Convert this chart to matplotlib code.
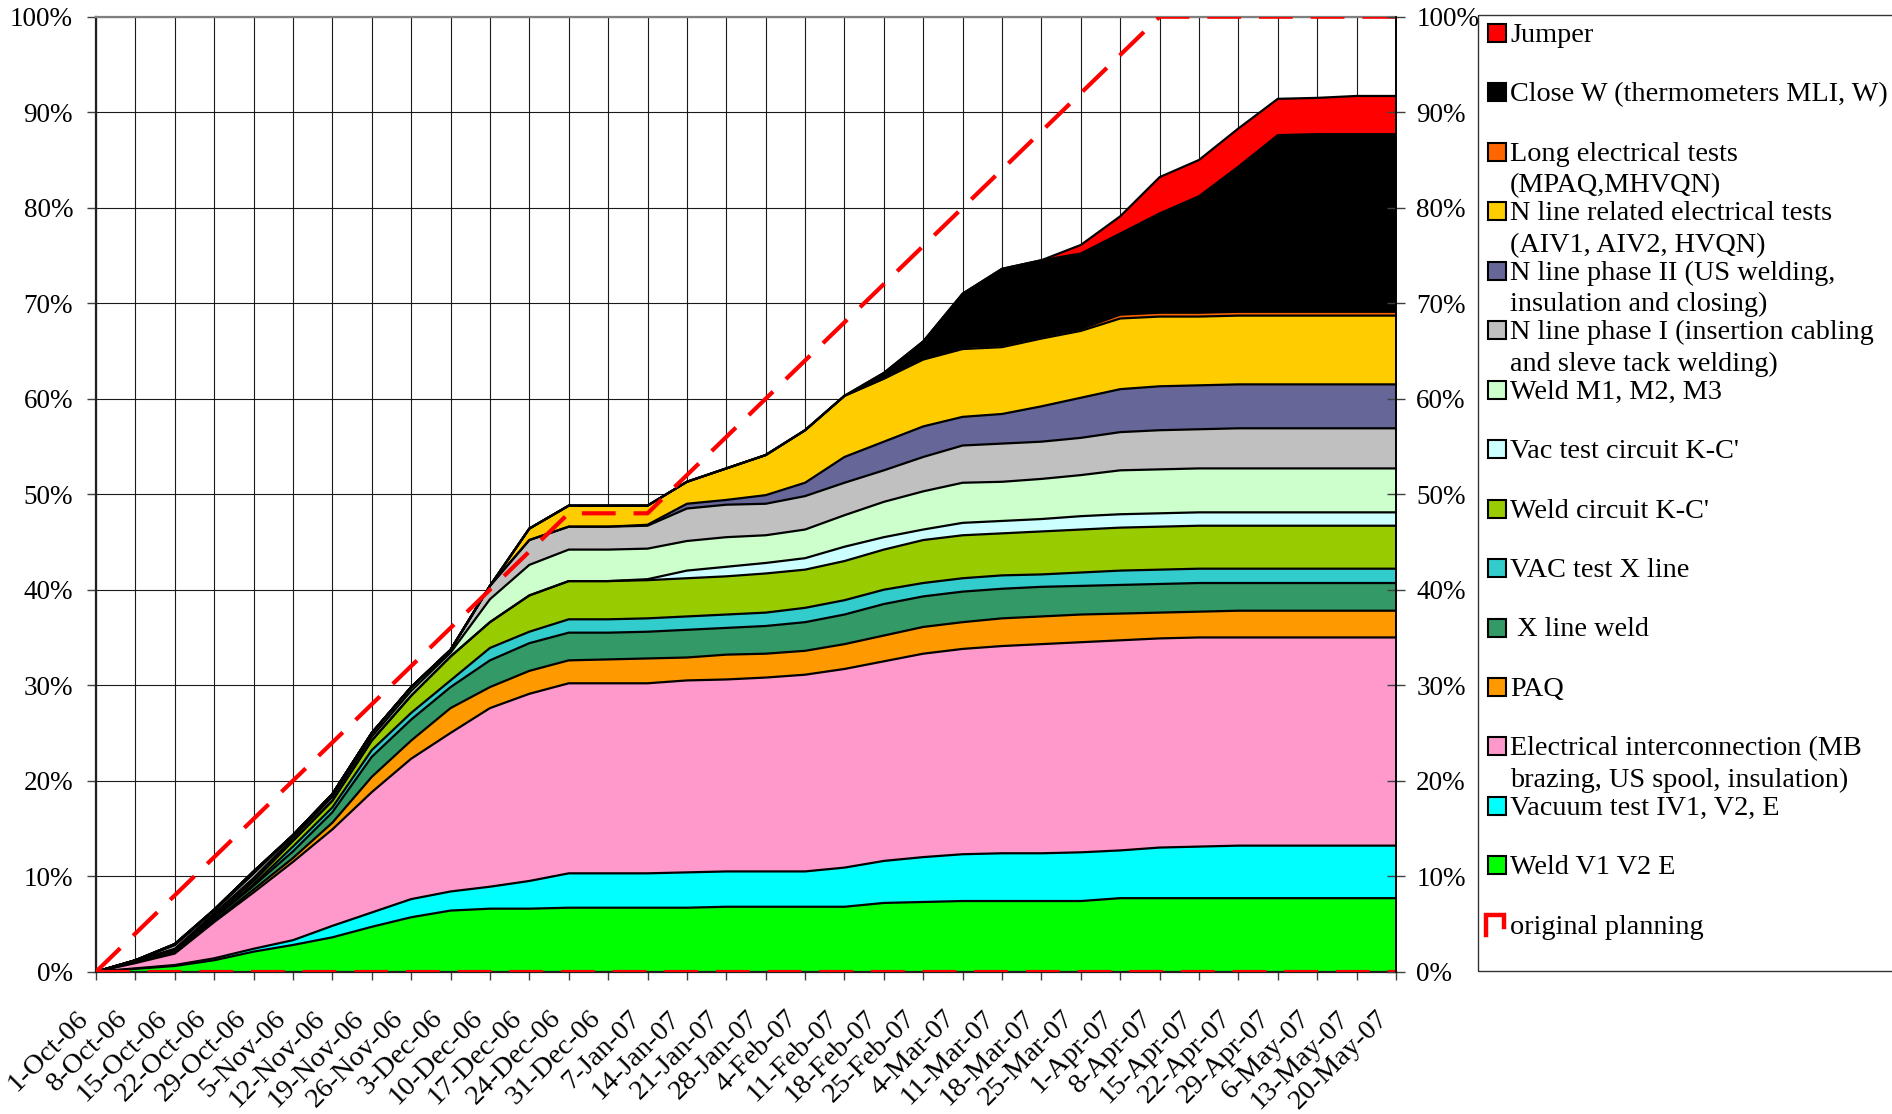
import matplotlib
matplotlib.use('Agg')
import matplotlib.pyplot as plt
import numpy as np
from matplotlib.patches import Rectangle
from matplotlib.lines import Line2D
from matplotlib.transforms import offset_copy

plt.rcParams['font.family'] = ['Liberation Serif', 'DejaVu Serif']

# ---------------- data (cumulative stack levels, %) ----------------
dates = ["1-Oct-06", "8-Oct-06", "15-Oct-06", "22-Oct-06", "29-Oct-06", "5-Nov-06",
         "12-Nov-06", "19-Nov-06", "26-Nov-06", "3-Dec-06", "10-Dec-06", "17-Dec-06",
         "24-Dec-06", "31-Dec-06", "7-Jan-07", "14-Jan-07", "21-Jan-07", "28-Jan-07",
         "4-Feb-07", "11-Feb-07", "18-Feb-07", "25-Feb-07", "4-Mar-07", "11-Mar-07",
         "18-Mar-07", "25-Mar-07", "1-Apr-07", "8-Apr-07", "15-Apr-07", "22-Apr-07",
         "29-Apr-07", "6-May-07", "13-May-07", "20-May-07"]

planning = [0, 4, 8, 12, 16, 20, 24, 28, 32, 36, 40, 44, 48, 48, 48, 52, 56, 60, 64, 68,
            72, 76, 80, 84, 88, 92, 96, 100, 100, 100, 100, 100, 100, 100]

weld_v1v2e_top = [0, 0.3, 0.6, 1.2, 2.1, 2.8, 3.6, 4.7, 5.7, 6.4,
                  6.6, 6.6, 6.7, 6.7, 6.7, 6.7, 6.8, 6.8, 6.8, 6.8,
                  7.2, 7.3, 7.4, 7.4, 7.4, 7.4, 7.7, 7.7, 7.7, 7.7,
                  7.7, 7.7, 7.7, 7.7]
vacuum_test_top = [0, 0.35, 0.7, 1.4, 2.4, 3.3, 4.8, 6.2, 7.6, 8.4,
                   8.9, 9.5, 10.3, 10.3, 10.3, 10.4, 10.5, 10.5, 10.5, 10.9,
                   11.6, 12.0, 12.3, 12.4, 12.4, 12.5, 12.7, 13.0, 13.1, 13.2,
                   13.2, 13.2, 13.2, 13.2]
elec_interconn_top = [0, 0.9, 1.9, 5.2, 8.3, 11.5, 14.9, 18.8, 22.3, 25.0,
                      27.6, 29.1, 30.2, 30.2, 30.2, 30.5, 30.6, 30.8, 31.1, 31.7,
                      32.5, 33.3, 33.8, 34.1, 34.3, 34.5, 34.7, 34.9, 35.0, 35.0,
                      35.0, 35.0, 35.0, 35.0]
paq_top = [0, 1.0, 2.05, 5.35, 8.6, 11.9, 15.6, 20.4, 24.2, 27.6,
           29.8, 31.5, 32.6, 32.7, 32.8, 32.9, 33.2, 33.3, 33.6, 34.3,
           35.2, 36.1, 36.6, 37.0, 37.2, 37.4, 37.5, 37.6, 37.7, 37.8,
           37.8, 37.8, 37.8, 37.8]
x_line_weld_top = [0, 1.05, 2.15, 5.6, 9.0, 12.6, 16.7, 22.5, 26.4, 29.8,
                   32.6, 34.4, 35.5, 35.5, 35.6, 35.8, 36.0, 36.2, 36.6, 37.4,
                   38.5, 39.3, 39.8, 40.1, 40.3, 40.4, 40.5, 40.6, 40.7, 40.7,
                   40.7, 40.7, 40.7, 40.7]
vac_test_x_top = [0, 1.1, 2.2, 5.7, 9.15, 13.1, 17.2, 23.2, 27.1, 30.5,
                  33.9, 35.6, 36.9, 36.9, 37.0, 37.2, 37.4, 37.6, 38.1, 38.9,
                  40.0, 40.7, 41.2, 41.5, 41.6, 41.8, 42.0, 42.1, 42.2, 42.2,
                  42.2, 42.2, 42.2, 42.2]
weld_kc_top = [0, 1.15, 2.3, 5.9, 9.5, 13.7, 17.9, 24.2, 28.9, 33.0,
               36.6, 39.4, 40.9, 40.9, 41.0, 41.2, 41.4, 41.7, 42.1, 43.0,
               44.2, 45.2, 45.7, 45.9, 46.1, 46.3, 46.5, 46.6, 46.7, 46.7,
               46.7, 46.7, 46.7, 46.7]
vac_test_kc_top = [0, 1.15, 2.3, 5.9, 9.5, 13.7, 17.9, 24.2, 28.9, 33.0,
                   36.6, 39.4, 40.9, 40.9, 41.1, 42.0, 42.4, 42.8, 43.3, 44.5,
                   45.5, 46.3, 47.0, 47.2, 47.4, 47.7, 47.9, 48.0, 48.1, 48.1,
                   48.1, 48.1, 48.1, 48.1]
weld_m_top = [0, 1.15, 2.4, 6.1, 9.8, 14.0, 18.3, 24.6, 29.4, 33.4,
              39.0, 42.6, 44.2, 44.2, 44.3, 45.1, 45.5, 45.7, 46.3, 47.8,
              49.2, 50.3, 51.2, 51.3, 51.6, 52.0, 52.5, 52.6, 52.7, 52.7,
              52.7, 52.7, 52.7, 52.7]
n_phase1_top = [0, 1.2, 2.8, 6.4, 10.3, 14.3, 18.6, 25.0, 29.8, 33.7,
                40.4, 45.2, 46.6, 46.6, 46.7, 48.5, 48.9, 49.0, 49.8, 51.2,
                52.5, 53.9, 55.1, 55.3, 55.5, 55.9, 56.5, 56.7, 56.8, 56.9,
                56.9, 56.9, 56.9, 56.9]
n_phase2_top = [0, 1.2, 2.8, 6.4, 10.3, 14.3, 18.6, 25.0, 29.8, 33.7,
                40.4, 45.2, 46.6, 46.6, 46.8, 49.0, 49.4, 49.9, 51.2, 53.9,
                55.5, 57.1, 58.1, 58.4, 59.2, 60.1, 61.0, 61.3, 61.4, 61.5,
                61.5, 61.5, 61.5, 61.5]
n_line_elec_top = [0, 1.2, 2.9, 6.5, 10.5, 14.3, 18.6, 25.0, 29.8, 33.7,
                   40.4, 46.4, 48.8, 48.8, 48.8, 51.3, 52.7, 54.1, 56.7, 60.3,
                   62.1, 64.1, 65.2, 65.4, 66.3, 67.1, 68.4, 68.6, 68.6, 68.7,
                   68.7, 68.7, 68.7, 68.7]
long_elec_top = [0, 1.2, 2.9, 6.5, 10.5, 14.3, 18.6, 25.0, 29.8, 33.7,
                 40.4, 46.4, 48.8, 48.8, 48.8, 51.3, 52.7, 54.1, 56.7, 60.3,
                 62.1, 64.2, 65.4, 65.6, 66.5, 67.3, 68.8, 69.0, 69.0, 69.1,
                 69.1, 69.1, 69.1, 69.1]
close_w_top = [0, 1.2, 2.9, 6.5, 10.5, 14.3, 18.6, 25.0, 29.8, 33.7,
               40.4, 46.4, 48.8, 48.8, 48.8, 51.3, 52.7, 54.1, 56.7, 60.3,
               62.7, 66.0, 71.0, 73.6, 74.5, 75.2, 77.3, 79.4, 81.2, 84.3,
               87.6, 87.7, 87.7, 87.7]
jumper_top = [0, 1.2, 2.9, 6.5, 10.5, 14.3, 18.6, 25.0, 29.8, 33.7,
              40.4, 46.4, 48.8, 48.8, 48.8, 51.3, 52.7, 54.1, 56.7, 60.3,
              62.7, 66.0, 71.0, 73.6, 74.5, 76.1, 79.1, 83.2, 85.0, 88.3,
              91.4, 91.5, 91.7, 91.7]

series_names = ["Weld V1 V2 E", "Vacuum test IV1, V2, E",
                "Electrical interconnection (MB\nbrazing, US spool, insulation)",
                "PAQ", " X line weld", "VAC test X line", "Weld circuit K-C'",
                "Vac test circuit K-C'", "Weld M1, M2, M3",
                "N line phase I (insertion cabling\nand sleve tack welding)",
                "N line phase II (US welding,\ninsulation and closing)",
                "N line related electrical tests\n(AIV1, AIV2, HVQN)",
                "Long electrical tests\n(MPAQ,MHVQN)",
                "Close W (thermometers MLI, W)", "Jumper"]
series_colors = ["#00FF00", "#00FFFF", "#FF99CC", "#FF9900", "#339966", "#33CCCC",
                 "#99CC00", "#CCFFFF", "#CCFFCC", "#C0C0C0", "#666699", "#FFCC00",
                 "#FF6600", "#000000", "#FF0000"]
series_levels = [weld_v1v2e_top, vacuum_test_top, elec_interconn_top, paq_top,
                 x_line_weld_top, vac_test_x_top, weld_kc_top, vac_test_kc_top,
                 weld_m_top, n_phase1_top, n_phase2_top, n_line_elec_top,
                 long_elec_top, close_w_top, jumper_top]
planning_name = "original planning"
y_ticks = list(range(0, 101, 10))

# ---------------- figure ----------------
W, H = 1892, 1114
fig = plt.figure(figsize=(W / 100, H / 100), dpi=100)


def fx(px):
    return px / W


def fy(py):
    return 1 - py / H


ax_left, ax_right, ax_top, ax_bottom = 96, 1396, 16.7, 971.7
ax = fig.add_axes([fx(ax_left), fy(ax_bottom), (ax_right - ax_left) / W,
                   (ax_bottom - ax_top) / H])

x = np.arange(len(dates))
prev = np.zeros(len(x))
for col, lev in zip(series_colors, series_levels):
    lev = np.asarray(lev, dtype=float)
    ax.fill_between(x, prev, lev, facecolor=col, edgecolor='none', lw=0, zorder=2)
    prev = lev
for lev in series_levels:
    ax.plot(x, lev, color='black', lw=1.6, zorder=3, solid_joinstyle='miter')

ax.plot(x, planning, color='#FF0000', lw=3.0, dashes=(8.1, 4.3), zorder=5)
ax.plot(x, np.zeros(len(x)), color='#FF0000', lw=3.0, dashes=(8.1, 4.3), zorder=5)

ax.set_xlim(0, len(x) - 1)
ax.set_ylim(0, 100)
ax.set_xticks(x)
ax.set_xticklabels([])
ax.set_yticks(y_ticks)
ax.set_yticklabels([f"{v}%" for v in y_ticks])
ax.set_axisbelow(True)
ax.grid(True, color='#1a1a1a', lw=0.8, zorder=0)
ax.tick_params(axis='x', direction='out', length=5.8, width=1, color='#404040')
ax.tick_params(axis='y', direction='out', length=6.5, width=1, labelsize=19.5, pad=10,
               color='#404040')
for side in ['left', 'bottom']:
    ax.spines[side].set_linewidth(1.6)
    ax.spines[side].set_color('#202020')
ax.spines['top'].set_color('#808080')
ax.spines['top'].set_linewidth(1.6)
ax.spines['right'].set_linewidth(1.2)

ax2 = ax.twinx()
ax2.set_ylim(0, 100)
ax2.set_yticks(y_ticks)
ax2.set_yticklabels([f"{v}%" for v in y_ticks])
ax2.tick_params(axis='y', direction='inout', length=13, width=1, labelsize=19.5, pad=8,
                color='#404040')
for side in ['left', 'bottom', 'top']:
    ax2.spines[side].set_visible(False)
ax2.spines['right'].set_linewidth(1.2)

# rotated date labels
trans = offset_copy(ax.get_xaxis_transform(), fig=fig, x=-8.0, y=-31.0, units='points')
for i, d in enumerate(dates):
    ax.text(i, 0, d, transform=trans, rotation=45, rotation_mode='anchor',
            ha='right', va='center', fontsize=20.5, clip_on=False)

# ---------------- legend (drawn to match the original slot layout) ----------------
fig.add_artist(Rectangle((fx(1478), fy(971)), (1910 - 1478) / W, (971 - 15) / H,
                         transform=fig.transFigure, fill=False, edgecolor='#333333',
                         lw=1.0))
slot0, slot_h, line_h = 33.0, 59.45, 31.4
entries = list(zip(series_names, series_colors))[::-1]
for k, (name, col) in enumerate(entries):
    yc = slot0 + k * slot_h
    fig.add_artist(Rectangle((fx(1487.5), fy(yc + 9)), 18 / W, 18 / H,
                             transform=fig.transFigure, facecolor=col,
                             edgecolor='black', lw=1.5))
    for j, line in enumerate(name.split('\n')):
        fig.text(fx(1510), fy(yc + 9 + j * line_h), line, fontsize=20.3,
                 ha='left', va='baseline')
yc = slot0 + len(entries) * slot_h
fig.add_artist(Line2D([fx(1486), fx(1486), fx(1504), fx(1504)],
                      [fy(yc + 10), fy(yc - 10), fy(yc - 10), fy(yc + 2)],
                      transform=fig.transFigure, color='#FF0000', lw=3.2,
                      solid_joinstyle='miter'))
fig.text(fx(1510), fy(yc + 9), planning_name, fontsize=20.3, ha='left', va='baseline')

fig.savefig('out.png', dpi=100)
